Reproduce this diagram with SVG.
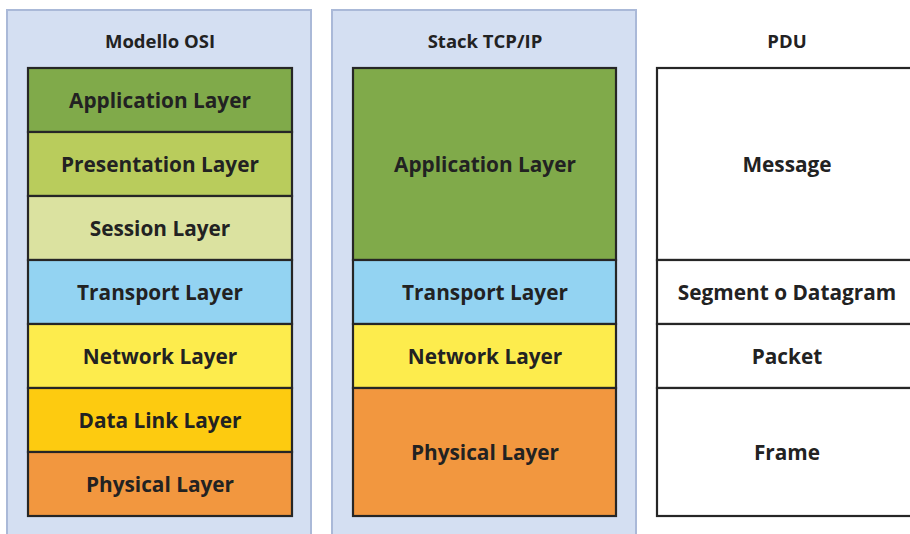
<svg xmlns="http://www.w3.org/2000/svg" width="910" height="534" viewBox="0 0 910 534">
  <style>
    .panel { fill: #d4dff2; stroke: #aab9d8; stroke-width: 2; }
    .cell { stroke: #262626; stroke-width: 2.2; }
    .title { font-family: "Open Sans", "Liberation Sans", sans-serif; font-weight: bold; font-size: 18.5px; fill: #222222; text-anchor: middle; }
    .label { font-family: "Open Sans", "Liberation Sans", sans-serif; font-weight: bold; font-size: 20.8px; fill: #222222; text-anchor: middle; dominant-baseline: central; }
    .app { fill: #80aa4a; }
    .pres { fill: #b9cc5c; }
    .sess { fill: #dbe2a0; }
    .trans { fill: #93d3f2; }
    .net { fill: #fdec4d; }
    .link { fill: #fdcb10; }
    .phys { fill: #f2973f; }
    .pdu { fill: #ffffff; }
  </style>
  <rect width="910" height="534" fill="#ffffff"/>

  <!-- OSI model column -->
  <g id="osi">
    <rect class="panel" x="7" y="10" width="304" height="530"/>
    <text class="title" x="160" y="48">Modello OSI</text>
    <g id="osi-application"><rect class="cell app" x="28" y="68" width="264" height="64"/><text class="label" x="160" y="100">Application Layer</text></g>
    <g id="osi-presentation"><rect class="cell pres" x="28" y="132" width="264" height="64"/><text class="label" x="160" y="164">Presentation Layer</text></g>
    <g id="osi-session"><rect class="cell sess" x="28" y="196" width="264" height="64"/><text class="label" x="160" y="228">Session Layer</text></g>
    <g id="osi-transport"><rect class="cell trans" x="28" y="260" width="264" height="64"/><text class="label" x="160" y="292">Transport Layer</text></g>
    <g id="osi-network"><rect class="cell net" x="28" y="324" width="264" height="64"/><text class="label" x="160" y="356">Network Layer</text></g>
    <g id="osi-datalink"><rect class="cell link" x="28" y="388" width="264" height="64"/><text class="label" x="160" y="420">Data Link Layer</text></g>
    <g id="osi-physical"><rect class="cell phys" x="28" y="452" width="264" height="64"/><text class="label" x="160" y="484">Physical Layer</text></g>
  </g>

  <!-- TCP/IP stack column -->
  <g id="tcpip">
    <rect class="panel" x="332" y="10" width="304" height="530"/>
    <text class="title" x="485" y="48">Stack TCP/IP</text>
    <g id="tcp-application"><rect class="cell app" x="353" y="68" width="263" height="192"/><text class="label" x="485" y="164">Application Layer</text></g>
    <g id="tcp-transport"><rect class="cell trans" x="353" y="260" width="263" height="64"/><text class="label" x="485" y="292">Transport Layer</text></g>
    <g id="tcp-network"><rect class="cell net" x="353" y="324" width="263" height="64"/><text class="label" x="485" y="356">Network Layer</text></g>
    <g id="tcp-physical"><rect class="cell phys" x="353" y="388" width="263" height="128"/><text class="label" x="485" y="452">Physical Layer</text></g>
  </g>

  <!-- PDU column -->
  <g id="pdu">
    <text class="title" x="787" y="48">PDU</text>
    <g id="pdu-message"><rect class="cell pdu" x="657" y="68" width="264" height="192"/><text class="label" x="787" y="164">Message</text></g>
    <g id="pdu-segment"><rect class="cell pdu" x="657" y="260" width="264" height="64"/><text class="label" x="787" y="292">Segment o Datagram</text></g>
    <g id="pdu-packet"><rect class="cell pdu" x="657" y="324" width="264" height="64"/><text class="label" x="787" y="356">Packet</text></g>
    <g id="pdu-frame"><rect class="cell pdu" x="657" y="388" width="264" height="128"/><text class="label" x="787" y="452">Frame</text></g>
  </g>
</svg>
